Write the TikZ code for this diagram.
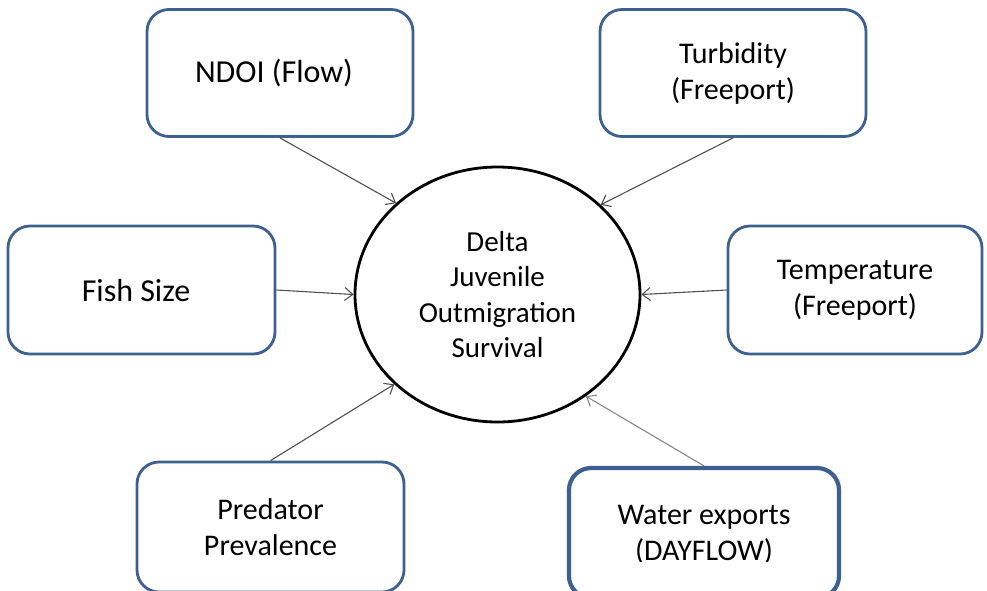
\documentclass[tikz,border=0pt]{standalone}
\usepackage{fontspec}
\setmainfont{Carlito}
\usetikzlibrary{shapes.geometric,arrows.meta}
\definecolor{boxblue}{RGB}{62,96,142}
\definecolor{arrgray}{RGB}{80,80,80}
\definecolor{arrlight}{RGB}{135,135,135}
\tikzset{
  factor/.style={draw=boxblue, line width=2.8pt, rounded corners=22pt, fill=white,
    align=center, inner sep=0pt, font=\fontsize{30}{36}\selectfont},
  bigtext/.style={font=\fontsize{32}{38}\selectfont},
  hub/.style={draw=black, line width=2.8pt, ellipse, inner sep=0pt,
    minimum width=285pt, minimum height=255pt, align=center,
    font=\fontsize{29}{35.5}\selectfont},
  link/.style={draw=arrgray, line width=1.1pt, -{Straight Barb[length=8pt,width=13pt,line width=1.1pt]}},
  lablight/.style={font=\fontsize{30}{36}\selectfont, align=center, inner sep=0pt}
}
\begin{document}
\begin{tikzpicture}[x=1pt,y=-1pt]
\useasboundingbox (0,0) rectangle (987,590);
\clip (0,0) rectangle (987,590);

\node[hub] (ell) at (497.5,294.5) {Delta\\Juvenile\\Outmigration\\Survival};

\node[factor, bigtext, minimum width=266pt, minimum height=127pt] (ndoi) at (280,73) {NDOI (Flow)\hspace*{12pt}};
\node[factor, minimum width=266pt, minimum height=127pt] (turb) at (733,73) {Turbidity\\(Freeport)};
\node[factor, bigtext, minimum width=267pt, minimum height=128pt] (fish) at (141.5,290) {Fish Size\hspace*{11pt}};
\node[factor, minimum width=254pt, minimum height=128pt] (temp) at (855,290) {Temperature\\(Freeport)};
\node[factor, minimum width=267pt, minimum height=130pt] (pred) at (270.5,527) {Predator\\Prevalence};
\node[factor, line width=4.2pt, minimum width=270pt, minimum height=130pt] (water) at (704,533) {};
\begin{scope}
  \clip (570,470) rectangle (838,561);
  \node[lablight] (watertext) at (704,535) {Water exports\\(DAYFLOW)};
\end{scope}

\draw[link] (ndoi.south) -- (ell.138.5);
\draw[link] (turb.south) -- (ell.41.5);
\draw[link] (fish.east) -- (ell.180);
\draw[link] (temp.west) -- (ell.0);
\draw[link] (pred.north) -- (ell.221.4);
\draw[link, draw=arrlight, color=arrlight] (water.north) -- (ell.311.7);
\end{tikzpicture}
\end{document}
